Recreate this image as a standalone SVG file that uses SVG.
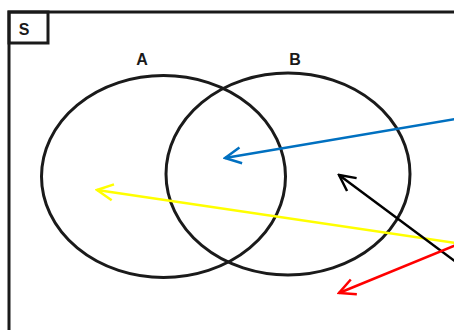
<svg xmlns="http://www.w3.org/2000/svg" width="454" height="330" viewBox="0 0 454 330">
<defs>
<style>
.frame{fill:none;stroke:#1a1a1a;stroke-width:3}
.set{fill:none;stroke:#1a1a1a;stroke-width:3}
.lbl{font-family:"Liberation Sans",Arial,sans-serif;font-weight:bold;font-size:16px;fill:#1a1a1a;text-anchor:middle}
.arr{fill:none;stroke-width:2.5}
</style>
<marker id="hb" viewBox="0 0 20 20" refX="18" refY="10" markerWidth="20" markerHeight="20" markerUnits="userSpaceOnUse" orient="auto"><path d="M2,2 L18,10 L2,18" fill="none" stroke="#0070c0" stroke-width="2.5"/></marker>
<marker id="hy" viewBox="0 0 20 20" refX="18" refY="10" markerWidth="20" markerHeight="20" markerUnits="userSpaceOnUse" orient="auto"><path d="M2,2 L18,10 L2,18" fill="none" stroke="#ffff00" stroke-width="2.5"/></marker>
<marker id="hk" viewBox="0 0 20 20" refX="18" refY="10" markerWidth="20" markerHeight="20" markerUnits="userSpaceOnUse" orient="auto"><path d="M2,2 L18,10 L2,18" fill="none" stroke="#000" stroke-width="2.5"/></marker>
<marker id="hr" viewBox="0 0 20 20" refX="18" refY="10" markerWidth="20" markerHeight="20" markerUnits="userSpaceOnUse" orient="auto"><path d="M2,2 L18,10 L2,18" fill="none" stroke="#ff0000" stroke-width="2.5"/></marker>
</defs>
<rect width="454" height="330" fill="#fff"/>
<g id="S">
<path class="frame" d="M9,332 L9,12 L456,12"/>
<rect class="frame" x="9" y="12" width="39" height="31"/>
<text class="lbl" x="24" y="35">S</text>
</g>
<g id="A">
<ellipse class="set" cx="163.5" cy="176.5" rx="122" ry="101"/>
<text class="lbl" x="142" y="65">A</text>
</g>
<g id="B">
<ellipse class="set" cx="288" cy="174" rx="122" ry="101"/>
<text class="lbl" x="295" y="65">B</text>
</g>
<g id="connectors">
<line class="arr" stroke="#0070c0" x1="456" y1="119" x2="225" y2="158" marker-end="url(#hb)"/>
<line class="arr" stroke="#ffff00" x1="456" y1="243" x2="97" y2="190" marker-end="url(#hy)"/>
<line class="arr" stroke="#000" x1="456" y1="262" x2="339" y2="175" marker-end="url(#hk)"/>
<line class="arr" stroke="#ff0000" x1="456" y1="245" x2="339" y2="293" marker-end="url(#hr)"/>
</g>
</svg>
